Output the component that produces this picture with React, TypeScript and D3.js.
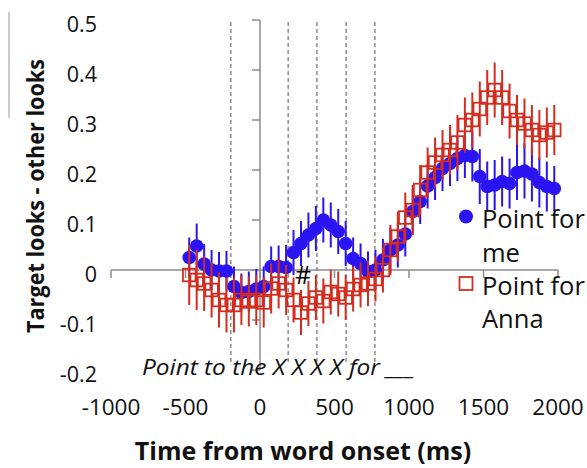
import React from 'react';
import * as d3 from 'd3';

// time bins (ms from word onset)
const times = [
  -475, -425, -375, -325, -275, -225, -175, -125, -75, -25,
  25, 75, 125, 175, 225, 275, 325, 375, 425, 475,
  525, 575, 625, 675, 725, 775, 825, 875, 925, 975,
  1025, 1075, 1125, 1175, 1225, 1275, 1325, 1375, 1425, 1475,
  1525, 1575, 1625, 1675, 1725, 1775, 1825, 1875, 1925, 1975,
];

// "Point for me"
const meValues = [
  0.025, 0.048, 0.012, 0.0, -0.002, -0.002, -0.033, -0.045, -0.043, -0.038,
  -0.033, 0.007, 0.007, 0.005, 0.035, 0.053, 0.07, 0.083, 0.1, 0.09,
  0.077, 0.053, 0.023, 0.013, -0.003, 0.0, 0.02, 0.04, 0.05, 0.072,
  0.117, 0.137, 0.168, 0.185, 0.203, 0.213, 0.223, 0.229, 0.227, 0.187,
  0.167, 0.17, 0.177, 0.173, 0.195, 0.198, 0.192, 0.175, 0.167, 0.163,
];
const meErr = [
  0.04, 0.045, 0.04, 0.04, 0.038, 0.04, 0.04, 0.038, 0.04, 0.04,
  0.04, 0.04, 0.042, 0.045, 0.045, 0.045, 0.045, 0.045, 0.045, 0.045,
  0.045, 0.045, 0.042, 0.04, 0.04, 0.04, 0.042, 0.045, 0.045, 0.045,
  0.045, 0.045, 0.045, 0.045, 0.045, 0.045, 0.045, 0.045, 0.05, 0.055,
  0.05, 0.05, 0.05, 0.05, 0.055, 0.055, 0.055, 0.05, 0.05, 0.045,
];

// "Point for Anna"
const annaValues = [
  -0.01, -0.02, -0.027, -0.04, -0.06, -0.07, -0.07, -0.06, -0.063, -0.06,
  -0.065, -0.037, -0.027, -0.04, -0.06, -0.085, -0.067, -0.055, -0.062, -0.044,
  -0.048, -0.055, -0.038, -0.03, -0.027, -0.018, 0.0, 0.04, 0.067, 0.105,
  0.12, 0.16, 0.195, 0.215, 0.23, 0.24, 0.255, 0.29, 0.3, 0.322,
  0.345, 0.36, 0.345, 0.318, 0.3, 0.293, 0.28, 0.27, 0.275, 0.28,
];
const annaErr = [
  0.06, 0.06, 0.055, 0.055, 0.055, 0.055, 0.055, 0.05, 0.05, 0.05,
  0.05, 0.05, 0.05, 0.05, 0.045, 0.045, 0.045, 0.045, 0.045, 0.045,
  0.045, 0.045, 0.045, 0.045, 0.045, 0.045, 0.045, 0.05, 0.05, 0.05,
  0.05, 0.05, 0.05, 0.05, 0.05, 0.05, 0.055, 0.055, 0.055, 0.055,
  0.055, 0.055, 0.055, 0.055, 0.05, 0.05, 0.05, 0.05, 0.05, 0.05,
];

const xTicks = [-1000, -500, 0, 500, 1000, 1500, 2000];
const yTicks = [-0.2, -0.1, 0, 0.1, 0.2, 0.3, 0.4, 0.5];
const yTickLabels = ['-0.2', '-0.1', '0', '0.1', '0.2', '0.3', '0.4', '0.5'];
// word boundaries (dashed lines)
const wordBounds = [-196, 189, 382, 578, 771];

const BLUE = '#2a14f2';
const RED = '#d42d1e';
const AXIS = '#8c8c8c';
const FONT = '"Open Sans", sans-serif';

export default function App() {
  const x = d3.scaleLinear().domain([-1000, 2000]).range([111, 558]);
  const y = d3.scaleLinear().domain([-0.2, 0.5]).range([370, 20]);

  const me = times.map((t, i) => ({ t, v: meValues[i], e: meErr[i] }));
  const anna = times.map((t, i) => ({ t, v: annaValues[i], e: annaErr[i] }));

  const x0 = x(0);
  const y0 = y(0);

  return (
    <svg width={587} height={468} style={{ position: 'absolute', left: 0, top: 0, background: '#fff' }}
      fontFamily={FONT}>
      <line x1={9} x2={9} y1={12} y2={118} stroke="#999" strokeWidth={1} />

      {/* word boundary lines */}
      {wordBounds.map(b => (
        <line key={b} x1={x(b)} x2={x(b)} y1={22} y2={362}
          stroke="#858585" strokeWidth={1.4} strokeDasharray="4,3" />
      ))}

      {/* y axis */}
      <line x1={x0} x2={x0} y1={y(0.5)} y2={y(-0.2)} stroke={AXIS} strokeWidth={1.5} />
      {yTicks.map((t, i) => (
        <g key={t}>
          <line x1={x0 - 8} x2={x0} y1={y(t)} y2={y(t)} stroke={AXIS} strokeWidth={1.5} />
          <text x={97} y={y(t) + 12} textAnchor="end" fontSize={21.5} fill="#111">{yTickLabels[i]}</text>
        </g>
      ))}

      {/* x axis */}
      <line x1={x(-1000)} x2={x(2000)} y1={y0} y2={y0} stroke={AXIS} strokeWidth={1.5} />
      {xTicks.map(t => (
        <g key={t}>
          <line x1={x(t)} x2={x(t)} y1={y0} y2={y0 + 8} stroke={AXIS} strokeWidth={1.5} />
          <text x={x(t)} y={415} textAnchor="middle" fontSize={22.5} fill="#111">{t}</text>
        </g>
      ))}

      {/* Point for me */}
      {me.map(d => (
        <line key={'me' + d.t} x1={x(d.t)} x2={x(d.t)} y1={y(d.v + d.e)} y2={y(d.v - d.e)}
          stroke={BLUE} strokeWidth={2} />
      ))}
      {me.map(d => (
        <circle key={'mc' + d.t} cx={x(d.t)} cy={y(d.v)} r={6.8} fill={BLUE} />
      ))}

      {/* Point for Anna */}
      {anna.map(d => (
        <line key={'an' + d.t} x1={x(d.t)} x2={x(d.t)} y1={y(d.v + d.e)} y2={y(d.v - d.e)}
          stroke={RED} strokeWidth={2} />
      ))}
      {anna.map(d => (
        <rect key={'ar' + d.t} x={x(d.t) - 6.3} y={y(d.v) - 6.3} width={12.6} height={12.6}
          fill="none" stroke={RED} strokeWidth={1.8} />
      ))}

      <text x={303} y={284} textAnchor="middle" fontSize={25} fill="#000">#</text>

      <text x={142} y={375} fontSize={21} fontStyle="italic" fill="#111"
        textLength={273} lengthAdjust="spacingAndGlyphs">Point to the X X X X for ___</text>

      {/* legend */}
      <circle cx={466} cy={216.5} r={7} fill={BLUE} />
      <text x={482} y={228} fontSize={25.5} fill="#111">Point for</text>
      <text x={482} y={262} fontSize={25.5} fill="#111">me</text>
      <rect x={459.5} y={277} width={13} height={13} fill="none" stroke={RED} strokeWidth={1.8} />
      <text x={482} y={295} fontSize={25.5} fill="#111">Point for</text>
      <text x={482} y={328} fontSize={25.5} fill="#111">Anna</text>

      {/* axis titles */}
      <text transform="translate(44,196) rotate(-90)" textAnchor="middle" fontSize={24}
        fontWeight="bold" fill="#111" textLength={274} lengthAdjust="spacingAndGlyphs">
        Target looks - other looks
      </text>
      <text x={303} y={460} textAnchor="middle" fontSize={25} fontWeight="bold" fill="#111">
        Time from word onset (ms)
      </text>
    </svg>
  );
}
